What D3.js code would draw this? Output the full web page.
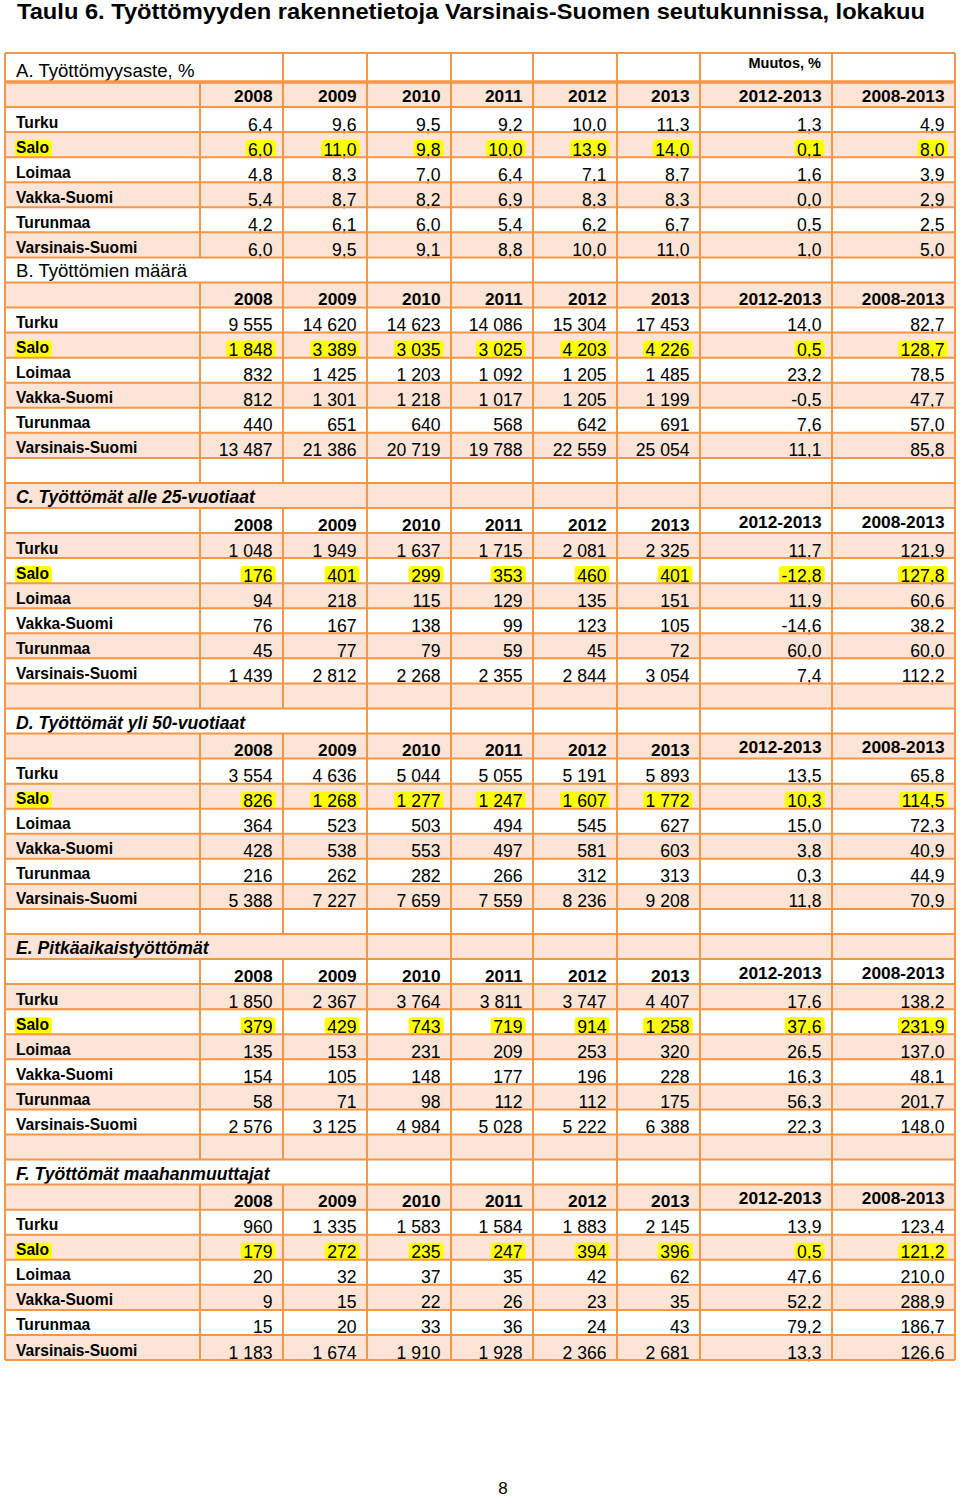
<!DOCTYPE html>
<html><head><meta charset="utf-8">
<script src="https://cdn.jsdelivr.net/npm/d3@7"></script>
<style>
html,body{margin:0;padding:0;background:#fff;}
svg{display:block;font-family:"Liberation Sans",Arial,sans-serif;}
</style></head>
<body>
<svg id="chart" width="960" height="1499"></svg>
<script>
// ---------- DATA ----------
const pageTitle = "Taulu 6. Työttömyyden rakennetietoja Varsinais-Suomen seutukunnissa, lokakuu";
const regions = ["Turku", "Salo", "Loimaa", "Vakka-Suomi", "Turunmaa", "Varsinais-Suomi"];
const highlightRegion = "Salo";
const years = ["2008", "2009", "2010", "2011", "2012", "2013"];
const changePeriods = ["2012-2013", "2008-2013"];
const changeHeading = "Muutos, %";
const sectionTitles = [
  "A. Työttömyysaste, %",
  "B. Työttömien määrä",
  "C. Työttömät alle 25-vuotiaat",
  "D. Työttömät yli 50-vuotiaat",
  "E. Pitkäaikaistyöttömät",
  "F. Työttömät maahanmuuttajat"
];
// values per region: 2008..2013
const rateA = [
  [6.4, 9.6, 9.5, 9.2, 10.0, 11.3],
  [6.0, 11.0, 9.8, 10.0, 13.9, 14.0],
  [4.8, 8.3, 7.0, 6.4, 7.1, 8.7],
  [5.4, 8.7, 8.2, 6.9, 8.3, 8.3],
  [4.2, 6.1, 6.0, 5.4, 6.2, 6.7],
  [6.0, 9.5, 9.1, 8.8, 10.0, 11.0]
];
const changeA = [[1.3, 4.9], [0.1, 8.0], [1.6, 3.9], [0.0, 2.9], [0.5, 2.5], [1.0, 5.0]];
const countB = [
  [9555, 14620, 14623, 14086, 15304, 17453],
  [1848, 3389, 3035, 3025, 4203, 4226],
  [832, 1425, 1203, 1092, 1205, 1485],
  [812, 1301, 1218, 1017, 1205, 1199],
  [440, 651, 640, 568, 642, 691],
  [13487, 21386, 20719, 19788, 22559, 25054]
];
const changeB = [[14.0, 82.7], [0.5, 128.7], [23.2, 78.5], [-0.5, 47.7], [7.6, 57.0], [11.1, 85.8]];
const countC = [
  [1048, 1949, 1637, 1715, 2081, 2325],
  [176, 401, 299, 353, 460, 401],
  [94, 218, 115, 129, 135, 151],
  [76, 167, 138, 99, 123, 105],
  [45, 77, 79, 59, 45, 72],
  [1439, 2812, 2268, 2355, 2844, 3054]
];
const changeC = [[11.7, 121.9], [-12.8, 127.8], [11.9, 60.6], [-14.6, 38.2], [60.0, 60.0], [7.4, 112.2]];
const countD = [
  [3554, 4636, 5044, 5055, 5191, 5893],
  [826, 1268, 1277, 1247, 1607, 1772],
  [364, 523, 503, 494, 545, 627],
  [428, 538, 553, 497, 581, 603],
  [216, 262, 282, 266, 312, 313],
  [5388, 7227, 7659, 7559, 8236, 9208]
];
const changeD = [[13.5, 65.8], [10.3, 114.5], [15.0, 72.3], [3.8, 40.9], [0.3, 44.9], [11.8, 70.9]];
const countE = [
  [1850, 2367, 3764, 3811, 3747, 4407],
  [379, 429, 743, 719, 914, 1258],
  [135, 153, 231, 209, 253, 320],
  [154, 105, 148, 177, 196, 228],
  [58, 71, 98, 112, 112, 175],
  [2576, 3125, 4984, 5028, 5222, 6388]
];
const changeE = [[17.6, 138.2], [37.6, 231.9], [26.5, 137.0], [16.3, 48.1], [56.3, 201.7], [22.3, 148.0]];
const countF = [
  [960, 1335, 1583, 1584, 1883, 2145],
  [179, 272, 235, 247, 394, 396],
  [20, 32, 37, 35, 42, 62],
  [9, 15, 22, 26, 23, 35],
  [15, 20, 33, 36, 24, 43],
  [1183, 1674, 1910, 1928, 2366, 2681]
];
const changeF = [[13.9, 123.4], [0.5, 121.2], [47.6, 210.0], [52.2, 288.9], [79.2, 186.7], [13.3, 126.6]];
const pageNumber = "8";

// ---------- LAYOUT / STYLE ----------
const C_LINE = "#f79646", C_FILL = "#fce4d6", C_HL = "#ffff00";
const colEdges = [5, 200, 283, 367, 451, 533, 617, 700, 832, 955];
const xEdge = d3.scaleOrdinal().domain(d3.range(colEdges.length)).range(colEdges);
const fi = d3.formatLocale({decimal: ",", thousands: " ", grouping: [3], currency: ["", ""], minus: "-"});
const fmt1 = fi.format(",.1f"), fmt0 = fi.format(",d");

const sections = [
  {title: sectionTitles[0], vals: rateA, chg: changeA, f: fmt1, span: 2, italic: false},
  {title: sectionTitles[1], vals: countB, chg: changeB, f: fmt0, span: 2, italic: false},
  {title: sectionTitles[2], vals: countC, chg: changeC, f: fmt0, span: 3, italic: true},
  {title: sectionTitles[3], vals: countD, chg: changeD, f: fmt0, span: 3, italic: true},
  {title: sectionTitles[4], vals: countE, chg: changeE, f: fmt0, span: 3, italic: true},
  {title: sectionTitles[5], vals: countF, chg: changeF, f: fmt0, span: 3, italic: true}
];
const rows = [];
sections.forEach((s, si) => {
  if (si > 1) rows.push({type: "blank"});
  rows.push({type: "title", s, si});
  rows.push({type: "header", s, si});
  regions.forEach((r, ri) => rows.push({type: "data", s, si, region: r, ri}));
});

const yRow = d3.scaleLinear().domain([1, rows.length]).range([82, 1360]);
const rowTop = i => i === 0 ? 53 : yRow(i);
const rowBot = i => yRow(i + 1);

const svg = d3.select("#chart");
const defs = svg.append("defs");
defs.append("filter").attr("id", "soft").attr("x", "-10%").attr("y", "-20%").attr("width", "120%").attr("height", "140%")
  .append("feGaussianBlur").attr("stdDeviation", 0.7);

// page title
svg.append("text").attr("x", 17).attr("y", 19)
  .attr("font-size", 21.5).attr("font-weight", "bold").attr("fill", "#000")
  .attr("textLength", 908).attr("lengthAdjust", "spacingAndGlyphs").text(pageTitle);

// row backgrounds
const gBg = svg.append("g");
rows.forEach((r, i) => {
  gBg.append("rect").attr("x", xEdge(0)).attr("y", rowTop(i))
    .attr("width", xEdge(9) - xEdge(0)).attr("height", rowBot(i) - rowTop(i))
    .attr("fill", i % 2 === 1 ? C_FILL : "#fff");
});

const gHl = svg.append("g").attr("filter", "url(#soft)");
const gTx = svg.append("g");
const gLn = svg.append("g").attr("stroke", C_LINE).attr("stroke-width", 2).attr("fill", "none");

rows.forEach((r, i) => {
  const t = rowTop(i), b = rowBot(i);
  for (let k = 0; k < colEdges.length; k++) {
    if (r.type === "title" && k > 0 && k < r.s.span) continue;
    gLn.append("line").attr("x1", xEdge(k)).attr("x2", xEdge(k)).attr("y1", t).attr("y2", b);
  }
  if (r.type === "title") {
    gTx.append("text").attr("x", 16).attr("y", b - 5)
      .attr("font-size", r.s.italic ? 17.6 : 18.6)
      .attr("font-weight", r.s.italic ? "bold" : "normal")
      .attr("font-style", r.s.italic ? "italic" : "normal")
      .text(r.s.title);
    if (r.si === 0) {
      gTx.append("text").attr("x", xEdge(8) - 11).attr("y", t + 14.5)
        .attr("text-anchor", "end").attr("font-size", 14.5).attr("font-weight", "bold")
        .text(changeHeading);
    }
  } else if (r.type === "header") {
    const yb = r.si === 0 ? b - 5 : b - 2.3;
    years.forEach((yv, j) => {
      gTx.append("text").attr("x", xEdge(j + 2) - 10.5).attr("y", yb)
        .attr("text-anchor", "end").attr("font-size", 17.3).attr("font-weight", "bold").text(yv);
    });
    const yc = r.si >= 2 ? b - 5.5 : yb;
    changePeriods.forEach((p, j) => {
      gTx.append("text").attr("x", xEdge(j + 8) - 10.5).attr("y", yc)
        .attr("text-anchor", "end").attr("font-size", 17.3).attr("font-weight", "bold").text(p);
    });
  } else if (r.type === "data") {
    const hl = r.region === highlightRegion;
    const texts = [];
    texts.push(gTx.append("text").attr("x", 16).attr("y", b - 4.5)
      .attr("font-size", 15.6).attr("font-weight", "bold").text(r.region));
    r.s.vals[r.ri].forEach((v, j) => {
      texts.push(gTx.append("text").attr("x", xEdge(j + 2) - 10.5).attr("y", b - 1.5)
        .attr("text-anchor", "end").attr("font-size", 17.6).text(r.s.f(v)));
    });
    r.s.chg[r.ri].forEach((v, j) => {
      texts.push(gTx.append("text").attr("x", xEdge(j + 8) - 10.5).attr("y", b - 1.5)
        .attr("text-anchor", "end").attr("font-size", 17.6).text(fmt1(v)));
    });
    if (hl) {
      texts.forEach((tx, k) => {
        const bb = tx.node().getBBox();
        const padL = k === 0 ? 1 : 2.5, padR = 3;
        gHl.append("rect").attr("x", bb.x - padL).attr("y", t + 8)
          .attr("width", bb.width + padL + padR).attr("height", b - t - 8.5)
          .attr("rx", 3).attr("fill", C_HL);
      });
    }
  }
});
rows.forEach((r, i) => {
  gLn.append("line").attr("x1", xEdge(0)).attr("x2", xEdge(9)).attr("y1", rowTop(i)).attr("y2", rowTop(i));
});
gLn.append("line").attr("x1", xEdge(0)).attr("x2", xEdge(9)).attr("y1", rowBot(rows.length - 1)).attr("y2", rowBot(rows.length - 1));
gLn.append("line").attr("x1", xEdge(0)).attr("x2", xEdge(9)).attr("y1", rowBot(0)).attr("y2", rowBot(0)).attr("stroke-width", 3.5);

svg.append("text").attr("x", 503).attr("y", 1494).attr("text-anchor", "middle")
  .attr("font-size", 17).text(pageNumber);
</script>
</body></html>
